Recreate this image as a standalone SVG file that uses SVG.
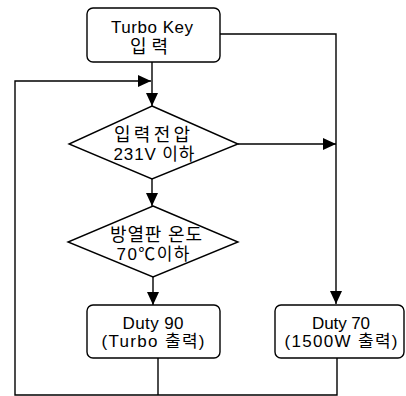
<svg xmlns="http://www.w3.org/2000/svg" width="406" height="396" viewBox="0 0 406 396">
<defs>
<style>
.n{fill:#fff;stroke:#000;stroke-width:1.4}
.c{fill:none;stroke:#000;stroke-width:1.4}
text{font-family:"Liberation Sans","Noto Sans CJK KR",sans-serif;font-size:17px;fill:#000;text-anchor:middle}
text.k{font-size:18px}
</style>
<marker id="ah" markerUnits="userSpaceOnUse" markerWidth="13" markerHeight="12" viewBox="0 0 13 12" refX="13" refY="6" orient="auto">
<path d="M0,0 L13,6 L0,12 Z" fill="#000"/>
</marker>
</defs>
<rect width="406" height="396" fill="#fff"/>
<g id="connectors">
<path class="c" d="M220,34 H336 V304" marker-end="url(#ah)"/>
<path class="c" d="M152,62 V106" marker-end="url(#ah)"/>
<path class="c" d="M238,144 H336" marker-end="url(#ah)"/>
<path class="c" d="M152,179 V206" marker-end="url(#ah)"/>
<path class="c" d="M153,277 V305" marker-end="url(#ah)"/>
<path class="c" d="M158,358 V395"/>
<path class="c" d="M337,358 V395 H15 V81 H151" marker-end="url(#ah)"/>
</g>
<g id="turbo-key">
<rect class="n" x="87" y="8" width="133" height="54" rx="6"/>
<text x="152" y="33" textLength="82" lengthAdjust="spacing">Turbo Key</text>
<text class="k" x="149" y="53" textLength="38" lengthAdjust="spacing">입력</text>
</g>
<g id="voltage-check">
<path class="n" d="M152,106 L238,144 L152,179 L69,144 Z"/>
<text class="k" x="152" y="141" textLength="76" lengthAdjust="spacing">입력전압</text>
<text x="154" y="160" textLength="81" lengthAdjust="spacing">231V 이하</text>
</g>
<g id="temp-check">
<path class="n" d="M153,206 L238,242 L153,277 L68,242 Z"/>
<text class="k" x="156" y="241" textLength="92" lengthAdjust="spacing">방열판 온도</text>
<text x="153" y="260" textLength="73" lengthAdjust="spacing">70℃이하</text>
</g>
<g id="duty90">
<rect class="n" x="87" y="305" width="133" height="53" rx="6"/>
<text x="153" y="329" textLength="61" lengthAdjust="spacing">Duty 90</text>
<text x="153" y="347" textLength="103" lengthAdjust="spacing">(Turbo 출력)</text>
</g>
<g id="duty70">
<rect class="n" x="275" y="305" width="129" height="53" rx="6"/>
<text x="341" y="329" textLength="58" lengthAdjust="spacing">Duty 70</text>
<text x="341" y="347" textLength="113" lengthAdjust="spacing">(1500W 출력)</text>
</g>
</svg>
